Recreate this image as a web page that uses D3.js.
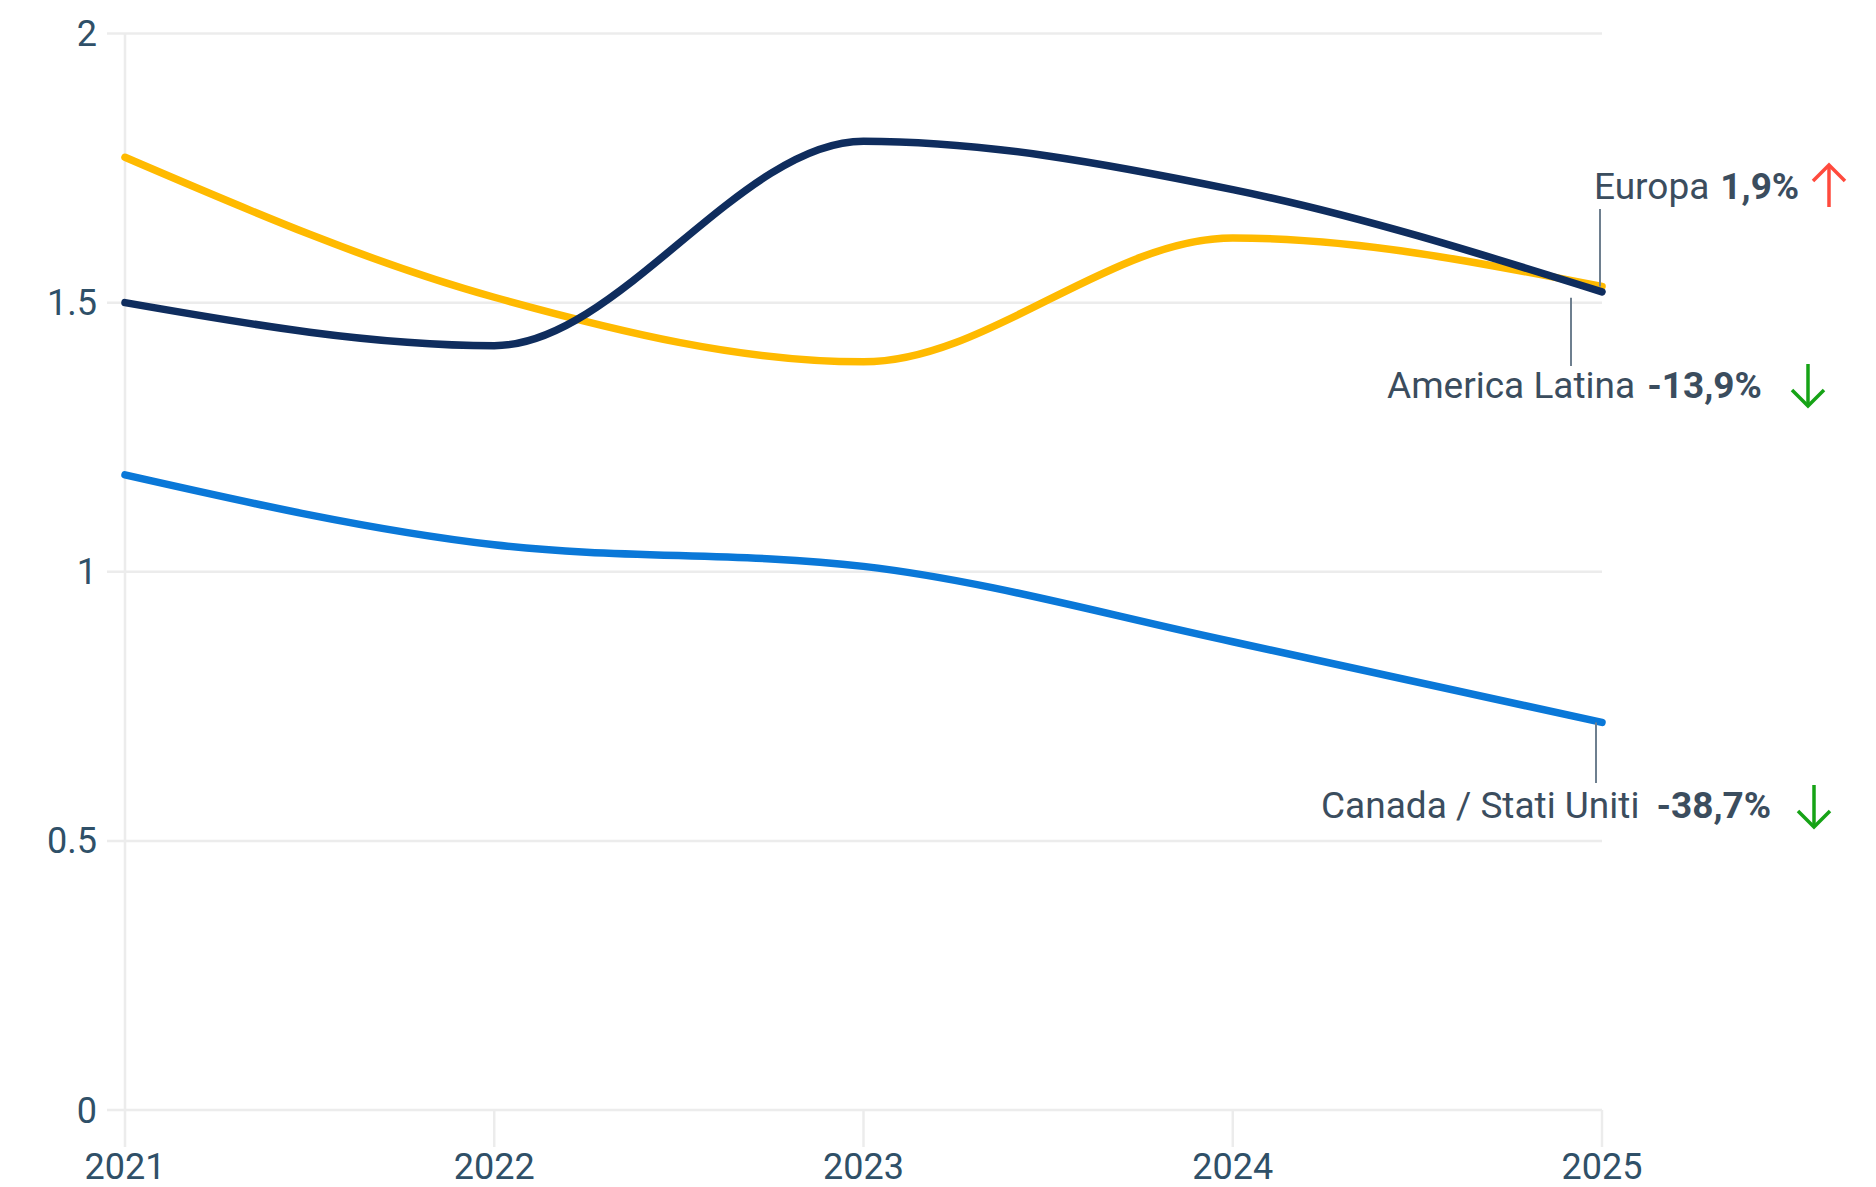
<!DOCTYPE html>
<meta charset="utf-8">
<style>
  body { margin: 0; background: #fff; }
  svg { font-family: Roboto, "Noto Sans", sans-serif; }
  .grid line { stroke: #ececec; stroke-width: 2.5; }
  .tick-label { fill: #2f5068; font-size: 36px; }
  .series { fill: none; stroke-width: 7.5; stroke-linecap: round; stroke-linejoin: round; }
  .leader { stroke: #6e7f8f; stroke-width: 2; }
  .label { fill: #3b4d5e; font-size: 37px; }
  .label .pct { font-weight: bold; }
  .arrow { fill: none; stroke-width: 3.5; stroke-linecap: butt; }
</style>

<svg width="1876" height="1187"></svg>
<script src="https://d3js.org/d3.v7.min.js"></script>
<script>
// Data
var years = [2021, 2022, 2023, 2024, 2025];
var europa = [1.50, 1.42, 1.80, 1.71, 1.52];
var americaLatina = [1.77, 1.51, 1.39, 1.62, 1.53];
var canadaUsa = [1.18, 1.05, 1.01, 0.87, 0.72];
var yTicks = [0, 0.5, 1, 1.5, 2];

var series = [
  {name: "America Latina", values: americaLatina, color: "#ffba00", pct: "-13,9%", up: false},
  {name: "Canada / Stati Uniti", values: canadaUsa, color: "#0a78d8", pct: "-38,7%", up: false},
  {name: "Europa", values: europa, color: "#0f2d5e", pct: "1,9%", up: true}
];

var svg = d3.select("svg");

// Scales
var x = d3.scaleLinear().domain([2021, 2025]).range([125, 1602]);
var y = d3.scaleLinear().domain([0, 2]).range([1110, 33.5]);

// Grid
var grid = svg.append("g").attr("class", "grid");
grid.selectAll(".h").data(yTicks).enter().append("line")
    .attr("x1", 107).attr("x2", x(2025))
    .attr("y1", d => y(d)).attr("y2", d => y(d));
grid.append("line")
    .attr("x1", x(2021)).attr("x2", x(2021))
    .attr("y1", y(2)).attr("y2", y(0) + 37);
grid.selectAll(".v").data(years.slice(1)).enter().append("line")
    .attr("x1", d => x(d)).attr("x2", d => x(d))
    .attr("y1", y(0)).attr("y2", y(0) + 37);

// Axis labels
svg.append("g").selectAll("text").data(yTicks).enter().append("text")
    .attr("class", "tick-label")
    .attr("x", 97).attr("y", d => y(d)).attr("dy", "0.35em")
    .attr("text-anchor", "end")
    .text(d => String(d));
svg.append("g").selectAll("text").data(years).enter().append("text")
    .attr("class", "tick-label")
    .attr("x", d => x(d)).attr("y", 1179)
    .attr("text-anchor", "middle")
    .text(d => d);

// Lines
var line = d3.line()
    .x((d, i) => x(years[i]))
    .y(d => y(d))
    .curve(d3.curveMonotoneX);

svg.append("g").selectAll("path").data(series).enter().append("path")
    .attr("class", "series")
    .attr("stroke", d => d.color)
    .attr("d", d => line(d.values));

// Annotations (leader line x and y span, text position, gap, arrow centre)
var notes = [
  {s: series[2], lx: 1600, ly0: y(1.53), ly1: 209, tx: 1594, ty: 199, gap: 11, ax: 1829, ay: 186},
  {s: series[0], lx: 1571, ly0: y(1.52) + 6, ly1: 366, tx: 1387, ty: 398, gap: 12, ax: 1808, ay: 385},
  {s: series[1], lx: 1596, ly0: y(0.72), ly1: 783, tx: 1321, ty: 818, gap: 17, ax: 1814, ay: 806}
];

var ann = svg.append("g");
notes.forEach(function(n) {
  ann.append("line").attr("class", "leader")
      .attr("x1", n.lx).attr("x2", n.lx)
      .attr("y1", n.ly0).attr("y2", n.ly1);
  var t = ann.append("text").attr("class", "label")
      .attr("x", n.tx).attr("y", n.ty);
  t.append("tspan").text(n.s.name);
  t.append("tspan").attr("class", "pct").attr("dx", n.gap).text(n.s.pct);

  var col = n.s.up ? "#ff4a3d" : "#16a316";
  var dir = n.s.up ? -1 : 1;
  var g = ann.append("g").attr("transform", "translate(" + n.ax + "," + n.ay + ")");
  g.append("line").attr("class", "arrow").attr("stroke", col)
      .attr("x1", 0).attr("x2", 0).attr("y1", -21 * dir).attr("y2", 20 * dir);
  g.append("path").attr("class", "arrow").attr("stroke", col)
      .attr("d", "M-16," + (5 * dir) + "L0," + (21 * dir) + "L16," + (5 * dir));
});
</script>
